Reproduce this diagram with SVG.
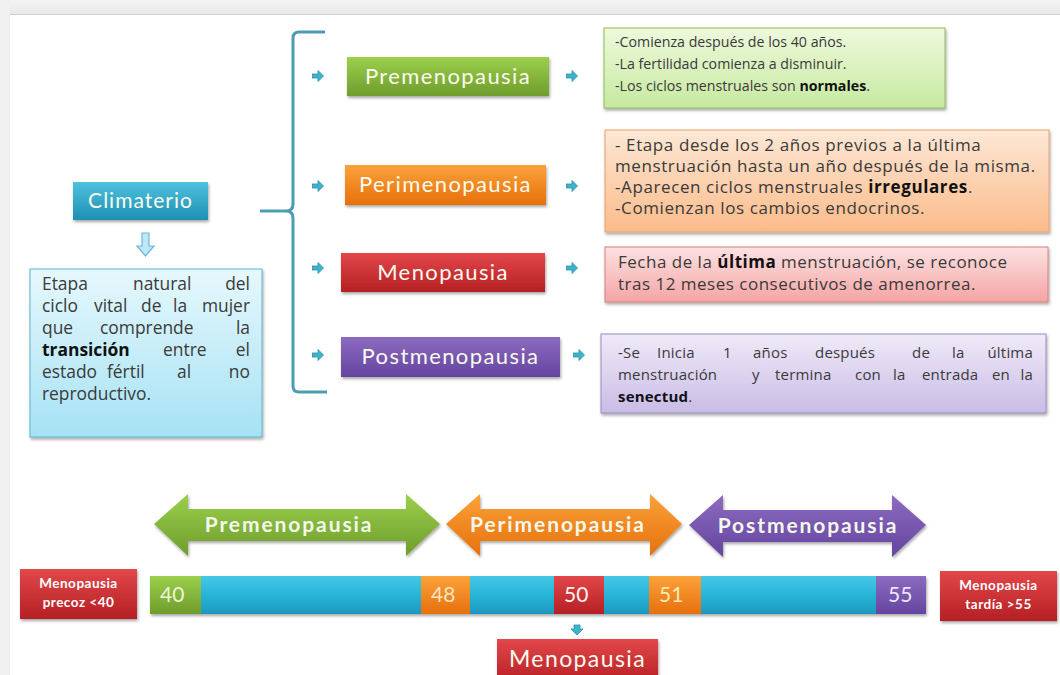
<svg xmlns="http://www.w3.org/2000/svg" width="1060" height="675" viewBox="0 0 1060 675">
<defs>
<linearGradient id="gGreen" x1="0" y1="0" x2="0" y2="1"><stop offset="0" stop-color="#9ccf4c"/><stop offset="1" stop-color="#6e9d2c"/></linearGradient>
<linearGradient id="gOrange" x1="0" y1="0" x2="0" y2="1"><stop offset="0" stop-color="#fba23a"/><stop offset="1" stop-color="#e6700c"/></linearGradient>
<linearGradient id="gRed" x1="0" y1="0" x2="0" y2="1"><stop offset="0" stop-color="#e2474a"/><stop offset="1" stop-color="#b51f24"/></linearGradient>
<linearGradient id="gPurple" x1="0" y1="0" x2="0" y2="1"><stop offset="0" stop-color="#8c6cbf"/><stop offset="1" stop-color="#6444a0"/></linearGradient>
<linearGradient id="gTeal" x1="0" y1="0" x2="0" y2="1"><stop offset="0" stop-color="#4cc2df"/><stop offset="1" stop-color="#1f8fb3"/></linearGradient>
<linearGradient id="gBar" x1="0" y1="0" x2="0" y2="1"><stop offset="0" stop-color="#45c8e6"/><stop offset="0.5" stop-color="#28b4d8"/><stop offset="1" stop-color="#1d98bf"/></linearGradient>
<linearGradient id="gDesc" x1="0" y1="0" x2="0" y2="1"><stop offset="0" stop-color="#e6f8fd"/><stop offset="1" stop-color="#a6e2f4"/></linearGradient>
<linearGradient id="gLGreen" x1="0" y1="0" x2="0" y2="1"><stop offset="0" stop-color="#eef9dc"/><stop offset="1" stop-color="#c6e9a0"/></linearGradient>
<linearGradient id="gLOrange" x1="0" y1="0" x2="0" y2="1"><stop offset="0" stop-color="#fde8d6"/><stop offset="1" stop-color="#fbbb8a"/></linearGradient>
<linearGradient id="gLRed" x1="0" y1="0" x2="0" y2="1"><stop offset="0" stop-color="#fde2e2"/><stop offset="1" stop-color="#f4a4a4"/></linearGradient>
<linearGradient id="gLPurple" x1="0" y1="0" x2="0" y2="1"><stop offset="0" stop-color="#f0eaf8"/><stop offset="1" stop-color="#c9bce6"/></linearGradient>
<linearGradient id="gTop" x1="0" y1="0" x2="0" y2="1"><stop offset="0" stop-color="#f4f4f4"/><stop offset="1" stop-color="#e8e8e8"/></linearGradient>
<filter id="sh" x="-10%" y="-10%" width="125%" height="140%"><feDropShadow dx="1" dy="2" stdDeviation="1.5" flood-color="#000" flood-opacity="0.35"/></filter>
<symbol id="sa" viewBox="0 0 12 12"><path d="M0 4 H6 V0.5 L11.5 6 L6 11.5 V8 H0 Z" fill="#3eb4cc" stroke="#2a8fa8" stroke-width="0.8"/></symbol>
</defs>
<style>
.title{font-family:Lato,"Open Sans","Liberation Sans",sans-serif;font-size:22px;fill:#fbfbee;letter-spacing:1.4px;text-anchor:middle;}
.body{font-family:"Open Sans",Lato,"Liberation Sans",sans-serif;fill:#3a3a3a;}
.arrlbl{font-family:Lato,"Open Sans","Liberation Sans",sans-serif;font-size:21px;font-weight:bold;fill:#f4f8ec;letter-spacing:1.9px;text-anchor:middle;}
.num{font-family:Lato,"Open Sans","Liberation Sans",sans-serif;font-size:21px;}
.small{font-family:Lato,"Open Sans","Liberation Sans",sans-serif;font-size:13.5px;font-weight:bold;fill:#fff;text-anchor:middle;letter-spacing:0.5px;}
</style>
<!-- background -->
<rect x="0" y="0" width="1060" height="675" fill="#ffffff"/>
<rect x="0" y="0" width="1060" height="14" fill="url(#gTop)"/>
<rect x="0" y="0" width="10" height="675" fill="#f0f0f0"/>
<line x1="10" y1="14.5" x2="1060" y2="14.5" stroke="#cfcfcf" stroke-width="1.2"/>

<g id="connectors">
<path d="M325 32 H299 Q293 32 293 38 V204 Q293 211 286 211 H260 M286 211 Q293 211 293 218 V386 Q293 392 299 392 H327" fill="none" stroke="#4b9db2" stroke-width="3"/>
<path d="M142 233 H149 V246 H154 L145.5 256 L137 246 H142 Z" fill="#bfe7f6" stroke="#6cb8d8" stroke-width="1.2"/>
<use href="#sa" x="312" y="70" width="12" height="12"/>
<use href="#sa" x="312" y="180" width="12" height="12"/>
<use href="#sa" x="312" y="262" width="12" height="12"/>
<use href="#sa" x="312" y="349" width="12" height="12"/>
<use href="#sa" x="566" y="70" width="12" height="12"/>
<use href="#sa" x="566" y="180" width="12" height="12"/>
<use href="#sa" x="566" y="262" width="12" height="12"/>
<use href="#sa" x="573" y="349" width="12" height="12"/>
<path d="M574 625 H580 V629 H583 L577 635 L571 629 H574 Z" fill="#3eb4cc" stroke="#2a8fa8" stroke-width="0.8"/>
</g>

<g id="climaterio">
<rect x="73" y="182" width="135" height="38" fill="url(#gTeal)" filter="url(#sh)"/>
<text class="title" x="140.5" y="208" style="font-size:21px;letter-spacing:1px">Climaterio</text>
</g>

<g id="descripcion">
<rect x="30" y="269" width="232" height="168" fill="url(#gDesc)" stroke="#5fb3c8" stroke-width="1" filter="url(#sh)"/>
<g class="body" font-size="17.4">
<text x="42" y="290">Etapa</text><text x="133" y="290">natural</text><text x="250" y="290" text-anchor="end">del</text>
<text x="42" y="312">ciclo</text><text x="94" y="312">vital</text><text x="141" y="312">de</text><text x="173" y="312">la</text><text x="250" y="312" text-anchor="end">mujer</text>
<text x="42" y="334">que</text><text x="100" y="334">comprende</text><text x="250" y="334" text-anchor="end">la</text>
<text x="42" y="356" font-weight="bold" fill="#111">transición</text><text x="163" y="356">entre</text><text x="250" y="356" text-anchor="end">el</text>
<text x="42" y="378">estado</text><text x="107" y="378">fértil</text><text x="177" y="378">al</text><text x="250" y="378" text-anchor="end">no</text>
<text x="42" y="400">reproductivo.</text>
</g>
</g>

<g id="premenopausia">
<rect x="347" y="57" width="202" height="39" fill="url(#gGreen)" filter="url(#sh)"/>
<text class="title" x="448" y="84">Premenopausia</text>
</g>
<g id="perimenopausia">
<rect x="345" y="165" width="201" height="40" fill="url(#gOrange)" filter="url(#sh)"/>
<text class="title" x="445.5" y="192">Perimenopausia</text>
</g>
<g id="menopausia">
<rect x="341" y="253" width="204" height="39" fill="url(#gRed)" filter="url(#sh)"/>
<text class="title" x="443" y="280">Menopausia</text>
</g>
<g id="postmenopausia">
<rect x="341" y="337" width="219" height="40" fill="url(#gPurple)" filter="url(#sh)"/>
<text class="title" x="450.5" y="364">Postmenopausia</text>
</g>

<g id="premenopausia-desc">
<rect x="604" y="28" width="341" height="80" fill="url(#gLGreen)" stroke="#8dbb5a" stroke-width="1" filter="url(#sh)"/>
<g class="body" font-size="14.2">
<text x="615" y="47">-Comienza después de los 40 años.</text>
<text x="615" y="69">-La fertilidad comienza a disminuir.</text>
<text x="615" y="91">-Los ciclos menstruales son <tspan font-weight="bold" fill="#111">normales</tspan>.</text>
</g>
</g>

<g id="perimenopausia-desc">
<rect x="605" y="130" width="444" height="102" fill="url(#gLOrange)" stroke="#e8a070" stroke-width="1" filter="url(#sh)"/>
<g class="body" font-size="17" letter-spacing="0.6">
<text x="615" y="151">- Etapa desde los 2 años previos a la última</text>
<text x="615" y="172">menstruación hasta un año después de la misma.</text>
<text x="615" y="193">-Aparecen ciclos menstruales <tspan font-weight="bold" fill="#111">irregulares</tspan>.</text>
<text x="615" y="214">-Comienzan los cambios endocrinos.</text>
</g>
</g>

<g id="menopausia-desc">
<rect x="605" y="247" width="443" height="55" fill="url(#gLRed)" stroke="#d88080" stroke-width="1" filter="url(#sh)"/>
<g class="body" font-size="17" letter-spacing="0.5">
<text x="618" y="268">Fecha de la <tspan font-weight="bold" fill="#111">última</tspan> menstruación, se reconoce</text>
<text x="618" y="290">tras 12 meses consecutivos de amenorrea.</text>
</g>
</g>

<g id="postmenopausia-desc">
<rect x="601" y="334" width="445" height="79" fill="url(#gLPurple)" stroke="#9a8cc0" stroke-width="1" filter="url(#sh)"/>
<g class="body" font-size="15" letter-spacing="0.2">
<text x="618" y="358">-Se</text><text x="657" y="358">Inicia</text><text x="723" y="358">1</text><text x="753" y="358">años</text><text x="815" y="358">después</text><text x="912" y="358">de</text><text x="952" y="358">la</text><text x="1033" y="358" text-anchor="end">última</text>
<text x="618" y="380">menstruación</text><text x="752" y="380">y</text><text x="775" y="380">termina</text><text x="855" y="380">con</text><text x="893" y="380">la</text><text x="922" y="380">entrada</text><text x="992" y="380">en</text><text x="1033" y="380" text-anchor="end">la</text>
<text x="618" y="402"><tspan font-weight="bold" fill="#111">senectud</tspan>.</text>
</g>
</g>

<g id="arrow-premenopausia">
<path d="M154 524 L188 494 V509 H406 V494 L440 524 L406 556 V541 H188 V556 Z" fill="url(#gGreen)" filter="url(#sh)"/>
<text class="arrlbl" x="289" y="532">Premenopausia</text>
</g>
<g id="arrow-perimenopausia">
<path d="M446 524 L480 494 V509 H650 V494 L682 524 L650 556 V541 H480 V556 Z" fill="url(#gOrange)" filter="url(#sh)"/>
<text class="arrlbl" x="558" y="532">Perimenopausia</text>
</g>
<g id="arrow-postmenopausia">
<path d="M689 525 L723 495 V510 H892 V495 L926 525 L892 557 V542 H723 V557 Z" fill="url(#gPurple)" filter="url(#sh)"/>
<text class="arrlbl" x="808" y="533">Postmenopausia</text>
</g>

<g id="timeline">
<rect x="150" y="576" width="776" height="38" fill="url(#gBar)" filter="url(#sh)"/>
</g>
<g id="t40"><rect x="150" y="576" width="51" height="38" fill="url(#gGreen)"/><text class="num" x="160" y="602" fill="#eaf6d6">40</text></g>
<g id="t48"><rect x="421" y="576" width="49" height="38" fill="url(#gOrange)"/><text class="num" x="431" y="602" fill="#fde2c4">48</text></g>
<g id="t50"><rect x="554" y="576" width="50" height="38" fill="url(#gRed)"/><text class="num" x="564" y="602" fill="#fff4f0">50</text></g>
<g id="t51"><rect x="649" y="576" width="52" height="38" fill="url(#gOrange)"/><text class="num" x="659" y="602" fill="#fde8b8">51</text></g>
<g id="t55"><rect x="876" y="576" width="50" height="38" fill="url(#gPurple)"/><text class="num" x="888" y="602" fill="#ece6f8">55</text></g>

<g id="precoz">
<rect x="20" y="569" width="117" height="50" fill="url(#gRed)" filter="url(#sh)"/>
<text class="small" x="78.5" y="588">Menopausia</text>
<text class="small" x="78.5" y="607">precoz &lt;40</text>
</g>
<g id="tardia">
<rect x="940" y="571" width="117" height="50" fill="url(#gRed)" filter="url(#sh)"/>
<text class="small" x="998.5" y="590">Menopausia</text>
<text class="small" x="998.5" y="609">tardía &gt;55</text>
</g>
<g id="menopausia-bottom">
<rect x="497" y="639" width="161" height="45" fill="url(#gRed)" filter="url(#sh)"/>
<text class="title" x="577.5" y="667" style="font-size:23px">Menopausia</text>
</g>
</svg>
